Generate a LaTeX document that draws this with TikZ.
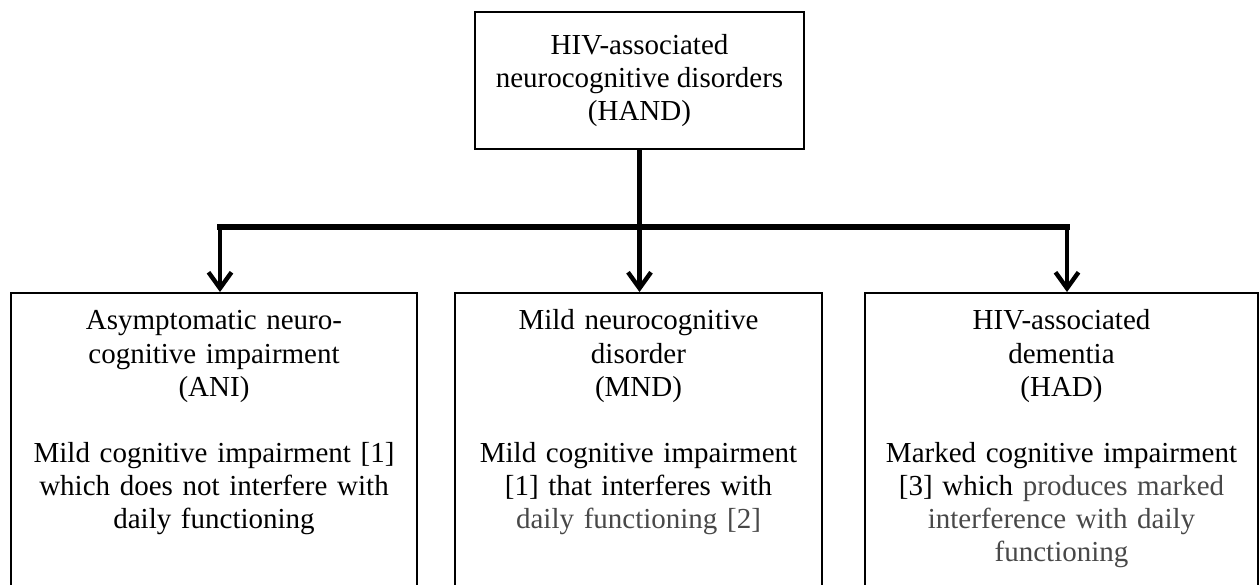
\documentclass[tikz,border=0pt]{standalone}
\usepackage{fontspec}
\setmainfont{Liberation Serif}
\usetikzlibrary{arrows.meta}
\definecolor{notegrey}{RGB}{72,72,72}

\begin{document}
\begin{tikzpicture}[
  box/.style={draw,line width=1.1pt,inner sep=0pt,align=center,font=\fontsize{16.5}{18.8}\selectfont},
  catbox/.style={box,anchor=base,text height=0.74cm,text depth=5.4cm},
  link/.style={line width=2.5pt},
  arr/.style={link,-{Straight Barb[length=3.2mm,width=4.6mm]}}
]
\useasboundingbox (0,0) rectangle (25.2,-11.7);
\clip (0,0) rectangle (25.2,-11.7);
% top: the umbrella term
\node[box,minimum width=6.58cm,minimum height=2.74cm] (hand) at (12.79,-1.61) {HIV-associated\\neurocognitive disorders\\(HAND)};
% bottom: the three categories (boxes run off the page)
\node[catbox,text width=8.12cm] (ani) at (4.28,-6.60) {Asymptomatic neuro-\\cognitive impairment\\(ANI)\\[18.8pt]Mild cognitive impairment [1]\\which does not interfere with\\daily functioning};
\node[catbox,text width=7.34cm] (mnd) at (12.77,-6.60) {Mild neurocognitive\\disorder\\(MND)\\[18.8pt]Mild cognitive impairment\\{}[1] that interferes with\\\textcolor{notegrey}{daily functioning [2]}};
\node[catbox,text width=7.86cm] (had) at (21.23,-6.60) {HIV-associated\\dementia\\(HAD)\\[18.8pt]Marked cognitive impairment\\{}[3] which \textcolor{notegrey}{produces marked}\\\textcolor{notegrey}{interference with daily}\\\textcolor{notegrey}{functioning}};
% branching connector
\coordinate (barL) at (4.40,-4.54);
\coordinate (barR) at (21.34,-4.54);
\draw[link,line width=3.4pt,line cap=rect] (barL) -- (barR);
\draw[arr] (hand.south) -- (hand.south |- mnd.north);
\draw[arr] (barL) -- (barL |- ani.north);
\draw[arr] (barR) -- (barR |- had.north);
\end{tikzpicture}
\end{document}
